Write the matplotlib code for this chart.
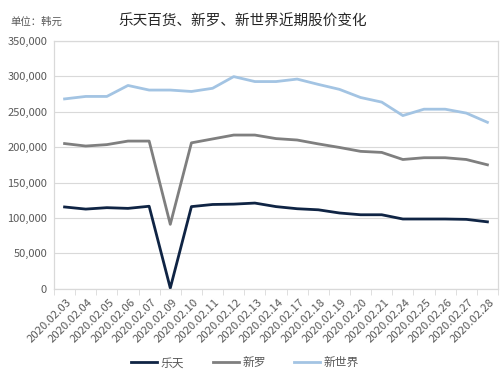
# 乐天百货、新罗、新世界近期股价变化 (line chart)

import numpy as np
import matplotlib
matplotlib.use('Agg')
import matplotlib.pyplot as plt
import matplotlib.ticker as plticker
import matplotlib.transforms as mtransforms

plt.rcParams['font.family'] = ['Noto Sans CJK SC', 'DejaVu Sans']

# data
dates = ['2020.02.03', '2020.02.04', '2020.02.05', '2020.02.06', '2020.02.07',
         '2020.02.09', '2020.02.10', '2020.02.11', '2020.02.12', '2020.02.13',
         '2020.02.14', '2020.02.17', '2020.02.18', '2020.02.19', '2020.02.20',
         '2020.02.21', '2020.02.24', '2020.02.25', '2020.02.26', '2020.02.27',
         '2020.02.28']
lotte = [115500, 112500, 114500, 113500, 116500, 1000, 116000, 119000, 119500, 121000,
         116000, 113000, 111500, 107000, 104500, 104500, 98500, 98500, 98500, 98000, 94500]
shilla = [205000, 201500, 203500, 208500, 208500, 91000, 206000, 211500, 217000, 217000,
          212000, 210000, 204500, 199500, 194000, 192500, 182500, 185000, 185000, 182500, 175000]
shinsegae = [268000, 271500, 271500, 287000, 280500, 280500, 278500, 283000, 299500, 292500,
             292500, 296000, 288500, 281500, 270000, 263500, 244500, 253500, 253500, 248000, 235000]
series_names = ['乐天', '新罗', '新世界']

# colours
lotte_color = '#0f2444'
shilla_color = '#7f7f7f'
shinsegae_color = '#a3c4e3'
grid_color = '#d9d9d9'
text_color = '#595959'

fig = plt.figure(figsize=(5, 3.78), dpi=100)
ax = fig.add_axes([0.108, 0.236, 0.888, 0.656])

x = np.arange(len(dates))
ax.plot(x, lotte, color=lotte_color, lw=2.0, label=series_names[0])
ax.plot(x, shilla, color=shilla_color, lw=2.0, label=series_names[1])
ax.plot(x, shinsegae, color=shinsegae_color, lw=2.0, label=series_names[2])

# axes limits and ticks
ax.set_xlim(-0.5, len(dates) - 0.5)
ax.set_ylim(0, 350000)
ax.yaxis.set_major_locator(plticker.MultipleLocator(50000))
ax.yaxis.set_major_formatter(plticker.FuncFormatter(lambda v, p: f'{int(v):,}'))
ax.set_xticks(x)
ax.set_xticklabels(dates, rotation=45, ha='right', rotation_mode='anchor')
ax.set_xticks(np.arange(-0.5, len(dates), 1), minor=True)
ax.tick_params(axis='x', which='major', length=0, pad=6, labelsize=8.2, colors=text_color)
ax.tick_params(axis='x', which='minor', length=4, color=grid_color, direction='out')
ax.tick_params(axis='y', length=0, pad=5, labelsize=8, colors=text_color)

# nudge the rotated date labels a bit to the right, like the original
offset = mtransforms.ScaledTranslation(1.5 / 72, 0, fig.dpi_scale_trans)
for lbl in ax.get_xticklabels():
    lbl.set_transform(lbl.get_transform() + offset)

ax.grid(axis='y', color=grid_color, lw=0.8)
ax.set_axisbelow(True)
for s in ax.spines.values():
    s.set_color(grid_color)
    s.set_linewidth(0.9)

# titles
fig.text(0.486, 0.942, '乐天百货、新罗、新世界近期股价变化', ha='center', va='center',
         fontsize=10.5, color='#262626')
fig.text(0.02, 0.942, '单位：韩元', ha='left', va='center', fontsize=7.5, color=text_color)

# legend
fig.legend(loc='center', bbox_to_anchor=(0.49, 0.04), ncol=3, frameon=False,
           fontsize=8.5, handlelength=2.2, handletextpad=0.3, columnspacing=2.4,
           labelcolor=text_color)

plt.savefig('out.png', dpi=100)
plt.close()
